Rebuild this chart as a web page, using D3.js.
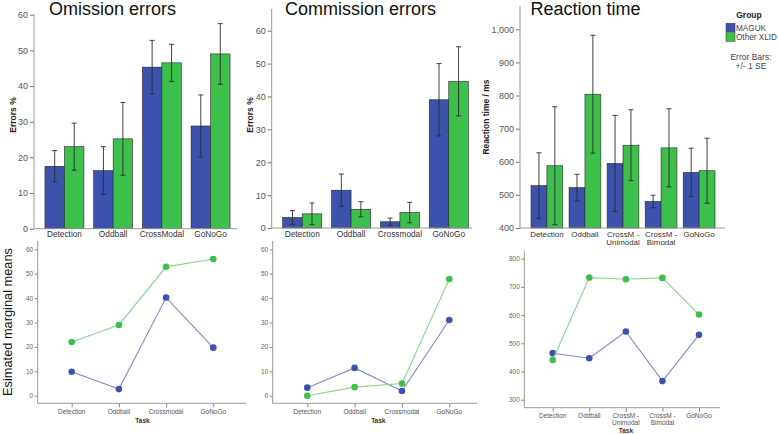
<!DOCTYPE html>
<html>
<head>
<meta charset="utf-8">
<script src="https://cdn.jsdelivr.net/npm/d3@7"></script>
<style>
  body { margin: 0; background: #fff; }
  svg text { font-family: "Liberation Sans", Arial, sans-serif; }
</style>
</head>
<body>
<div id="chart"></div>
<script>
// ---- data ----
const tasks4 = ["Detection", "Oddball", "CrossModal", "GoNoGo"];
const tasks4b = ["Detection", "Oddball", "Crossmodal", "GoNoGo"];
const tasksRT = ["Detection", "Oddball", "CrossM -|Unimodal", "CrossM -|Bimodal", "GoNoGo"];
const groups = ["MAGUK", "Other XLID"];

const omissionMaguk = [17.5, 16.3, 45.3, 28.8];
const omissionMagukSE = [4.4, 6.7, 7.5, 8.7];
const omissionOther = [23.0, 25.2, 46.5, 49.0];
const omissionOtherSE = [6.6, 10.2, 5.2, 8.5];

const commissionMaguk = [3.2, 11.5, 1.9, 39.0];
const commissionMagukSE = [2.1, 4.9, 1.1, 11.0];
const commissionOther = [4.3, 5.7, 4.7, 44.6];
const commissionOtherSE = [3.3, 2.3, 3.1, 10.5];

const rtMaguk = [528, 522, 595, 480, 568];
const rtMagukSE = [99, 40, 145, 19, 73];
const rtOther = [588, 804, 650, 642, 573];
const rtOtherSE = [178, 178, 107, 118, 98];

const emmOmissionMaguk = [9.8, 2.7, 40.2, 19.7];
const emmOmissionOther = [22.0, 29.0, 52.8, 56.0];
const emmCommissionMaguk = [3.3, 11.4, 1.9, 31.0];
const emmCommissionOther = [0.0, 3.5, 5.0, 47.8];
const emmRtMaguk = [465, 447, 542, 366, 530];
const emmRtOther = [441, 733, 727, 732, 602];

const blue = "#3d52ad", green = "#3dbf4b";
const blueLine = "#8189c6", greenLine = "#88d591";
const colors = [blue, green];

const svg = d3.select("#chart").append("svg")
  .attr("width", 778).attr("height", 434);

function multiline(sel, label, lh) {
  label.split("|").forEach(function (t, i) {
    sel.append("tspan").attr("x", 0).attr("dy", i === 0 ? 0 : lh).text(t);
  });
}

// ---- bar chart with error bars ----
function barChart(o) {
  const g = svg.append("g");
  const x0 = d3.scaleBand().domain(o.tasks).range(o.xr).paddingInner(o.pad).paddingOuter(0.1);
  const x1 = d3.scaleBand().domain(groups).range([0, x0.bandwidth()]);
  const y = d3.scaleLinear().domain(o.yd).range(o.yr);

  const rows = o.tasks.map(function (t, i) {
    return groups.map(function (gr, j) {
      return { task: t, group: gr, j: j, v: o.vals[j][i], se: o.ses[j][i] };
    });
  });

  const grp = g.selectAll(".task").data(rows).enter().append("g")
    .attr("transform", function (d) { return "translate(" + x0(d[0].task) + ",0)"; });

  grp.selectAll("rect").data(function (d) { return d; }).enter().append("rect")
    .attr("x", function (d) { return x1(d.group); })
    .attr("width", x1.bandwidth())
    .attr("y", function (d) { return y(d.v); })
    .attr("height", function (d) { return y(o.yd[0]) - y(d.v); })
    .attr("fill", function (d) { return colors[d.j]; })
    .attr("stroke", "#2a2a2a").attr("stroke-width", 0.6);

  const eb = grp.selectAll(".eb").data(function (d) { return d; }).enter().append("g")
    .attr("stroke", "#2b2b2b").attr("stroke-width", 0.9);
  const cx = function (d) { return x1(d.group) + x1.bandwidth() / 2; };
  eb.append("line")
    .attr("x1", cx).attr("x2", cx)
    .attr("y1", function (d) { return y(d.v - d.se); })
    .attr("y2", function (d) { return y(d.v + d.se); });
  [-1, 1].forEach(function (s) {
    eb.append("line")
      .attr("x1", function (d) { return cx(d) - 2.5; })
      .attr("x2", function (d) { return cx(d) + 2.5; })
      .attr("y1", function (d) { return y(d.v + s * d.se); })
      .attr("y2", function (d) { return y(d.v + s * d.se); });
  });

  // y axis
  const ya = g.append("g").attr("transform", "translate(" + o.xa + ",0)")
    .call(d3.axisLeft(y).tickValues(o.ticks).tickSize(4).tickPadding(2).tickFormat(d3.format(",")));
  ya.select(".domain").remove();
  ya.selectAll("line").attr("stroke", "#777");
  ya.selectAll("text").attr("fill", "#555").style("font-size", "9px");
  g.append("line").attr("x1", o.xa).attr("x2", o.xa)
    .attr("y1", o.top).attr("y2", y(o.yd[0])).attr("stroke", "#999");
  g.append("line").attr("x1", o.xa).attr("x2", o.xend)
    .attr("y1", y(o.yd[0])).attr("y2", y(o.yd[0])).attr("stroke", "#999");

  // x labels
  o.tasks.forEach(function (t) {
    const tx = g.append("text")
      .attr("transform", "translate(" + (x0(t) + x0.bandwidth() / 2) + "," + (y(o.yd[0]) + 8.5) + ")")
      .attr("text-anchor", "middle").attr("fill", "#333").style("font-size", o.xfs + "px");
    multiline(tx, t, 8.5);
  });

  g.append("text").attr("x", o.titleX).attr("y", 14.5)
    .style("font-size", "18px").attr("fill", "#111").text(o.title);

  g.append("text")
    .attr("transform", "translate(" + o.ylabX + "," + o.ylabY + ") rotate(-90)")
    .attr("text-anchor", "middle").style("font-size", "8.5px").style("font-weight", "bold")
    .attr("fill", "#222").text(o.ylab);
}

// ---- estimated marginal means line chart ----
function lineChart(o) {
  const g = svg.append("g");
  g.append("rect").attr("x", o.bg[0]).attr("y", o.bg[1]).attr("width", o.bg[2]).attr("height", o.bg[3])
    .attr("fill", "#fff");
  const x = d3.scalePoint().domain(o.tasks).range(o.xr);
  const y = d3.scaleLinear().domain(o.yd).range(o.yr);

  g.append("line").attr("x1", o.xa).attr("x2", o.xa).attr("y1", o.top).attr("y2", o.bottom).attr("stroke", "#999");
  g.append("line").attr("x1", o.xa).attr("x2", o.xend).attr("y1", o.bottom).attr("y2", o.bottom).attr("stroke", "#999");

  const ya = g.append("g").attr("transform", "translate(" + o.xa + ",0)")
    .call(d3.axisLeft(y).tickValues(o.ticks).tickSize(3).tickPadding(1.5));
  ya.select(".domain").remove();
  ya.selectAll("line").attr("stroke", "#888");
  ya.selectAll("text").attr("fill", "#666").style("font-size", "6.5px");

  const xa = g.append("g").attr("transform", "translate(0," + o.bottom + ")")
    .call(d3.axisBottom(x).tickSize(4).tickPadding(3).tickFormat(""));
  xa.select(".domain").remove();
  xa.selectAll("line").attr("stroke", "#888");
  o.tasks.forEach(function (t) {
    const tx = g.append("text")
      .attr("transform", "translate(" + x(t) + "," + (o.bottom + 10.5) + ")")
      .attr("text-anchor", "middle").attr("fill", "#555").style("font-size", "6.5px");
    multiline(tx, t, 6.5);
  });
  g.append("text").attr("x", (o.xr[0] + o.xr[1]) / 2).attr("y", o.taskY)
    .attr("text-anchor", "middle").style("font-size", "6.5px").style("font-weight", "bold")
    .attr("fill", "#333").text("Task");

  const line = d3.line().x(function (d, i) { return x(o.tasks[i]); }).y(function (d) { return y(d); });
  [[o.maguk, blueLine, blue], [o.other, greenLine, green]].forEach(function (s) {
    g.append("path").attr("d", line(s[0])).attr("fill", "none").attr("stroke", s[1]).attr("stroke-width", 1.1);
    g.selectAll(null).data(s[0]).enter().append("circle")
      .attr("cx", function (d, i) { return x(o.tasks[i]); })
      .attr("cy", function (d) { return y(d); })
      .attr("r", 3.3).attr("fill", s[2]);
  });
}

barChart({ tasks: tasks4, vals: [omissionMaguk, omissionOther], ses: [omissionMagukSE, omissionOtherSE],
  xr: [40.1, 234.9], pad: 0.2, yd: [0, 60], yr: [228.7, 14.7], ticks: [0, 10, 20, 30, 40, 50, 60],
  xa: 34, top: 14, xend: 237, xfs: 8.3, title: "Omission errors", titleX: 49, ylab: "Errors %", ylabX: 16, ylabY: 115 });

barChart({ tasks: tasks4b, vals: [commissionMaguk, commissionOther], ses: [commissionMagukSE, commissionOtherSE],
  xr: [277.8, 473.2], pad: 0.2, yd: [0, 60], yr: [228, 30.7], ticks: [0, 10, 20, 30, 40, 50, 60],
  xa: 271.7, top: 9, xend: 472, xfs: 8.3, title: "Commission errors", titleX: 285, ylab: "Errors %", ylabX: 253, ylabY: 115 });

barChart({ tasks: tasksRT, vals: [rtMaguk, rtOther], ses: [rtMagukSE, rtOtherSE],
  xr: [527.2, 718.8], pad: 0.165, yd: [400, 1000], yr: [228, 29.3], ticks: [400, 500, 600, 700, 800, 900, 1000],
  xa: 520, top: 6, xend: 725, xfs: 7.9, title: "Reaction time", titleX: 530.5, ylab: "Reaction time / ms", ylabX: 488.5, ylabY: 117 });

// top-panel "Task" titles (mostly hidden behind the lower panels)
[[136, 246], [372, 246], [623, 256]].forEach(function (p) {
  svg.append("text").attr("x", p[0]).attr("y", p[1]).attr("text-anchor", "middle")
    .style("font-size", "8.5px").style("font-weight", "bold").attr("fill", "#333").text("Task");
});

// legend
const leg = svg.append("g");
leg.append("text").attr("x", 749).attr("y", 18).attr("text-anchor", "middle")
  .style("font-size", "8.5px").style("font-weight", "bold").attr("fill", "#222").text("Group");
groups.forEach(function (gr, i) {
  leg.append("rect").attr("x", 726).attr("y", 23.3 + i * 9.4).attr("width", 9).attr("height", 8.6)
    .attr("fill", colors[i]).attr("stroke", "#333").attr("stroke-width", 0.5);
  leg.append("text").attr("x", 736).attr("y", 31 + i * 9.4).style("font-size", "8.2px")
    .attr("fill", "#444").text(gr);
});
leg.append("text").attr("x", 751).attr("y", 60).attr("text-anchor", "middle")
  .style("font-size", "8.5px").attr("fill", "#444").text("Error Bars:");
leg.append("text").attr("x", 751).attr("y", 68.5).attr("text-anchor", "middle")
  .style("font-size", "8.5px").attr("fill", "#444").text("+/- 1 SE");

lineChart({ tasks: tasks4b, maguk: emmOmissionMaguk, other: emmOmissionOther,
  bg: [20, 239, 230, 195], xr: [71.7, 213.3], yd: [0, 60], yr: [395.7, 249.3], ticks: [0, 10, 20, 30, 40, 50, 60],
  xa: 37.7, top: 241, bottom: 403.3, xend: 246, taskY: 423 });

lineChart({ tasks: tasks4b, maguk: emmCommissionMaguk, other: emmCommissionOther,
  bg: [256, 239, 222, 195], xr: [307.3, 449.3], yd: [0, 60], yr: [395.7, 249.3], ticks: [0, 10, 20, 30, 40, 50, 60],
  xa: 272.7, top: 241, bottom: 403.3, xend: 477, taskY: 423 });

lineChart({ tasks: tasksRT, maguk: emmRtMaguk, other: emmRtOther,
  bg: [506, 249, 230, 185], xr: [552.7, 699], yd: [300, 800], yr: [399.7, 258.7], ticks: [300, 400, 500, 600, 700, 800],
  xa: 524.3, top: 250.7, bottom: 407.7, xend: 720, taskY: 432.5 });

// shared y title of the lower row
svg.append("text").attr("transform", "translate(12,322) rotate(-90)")
  .attr("text-anchor", "middle").style("font-size", "12.8px").attr("fill", "#111")
  .text("Esimated marginal means");
</script>
</body>
</html>
